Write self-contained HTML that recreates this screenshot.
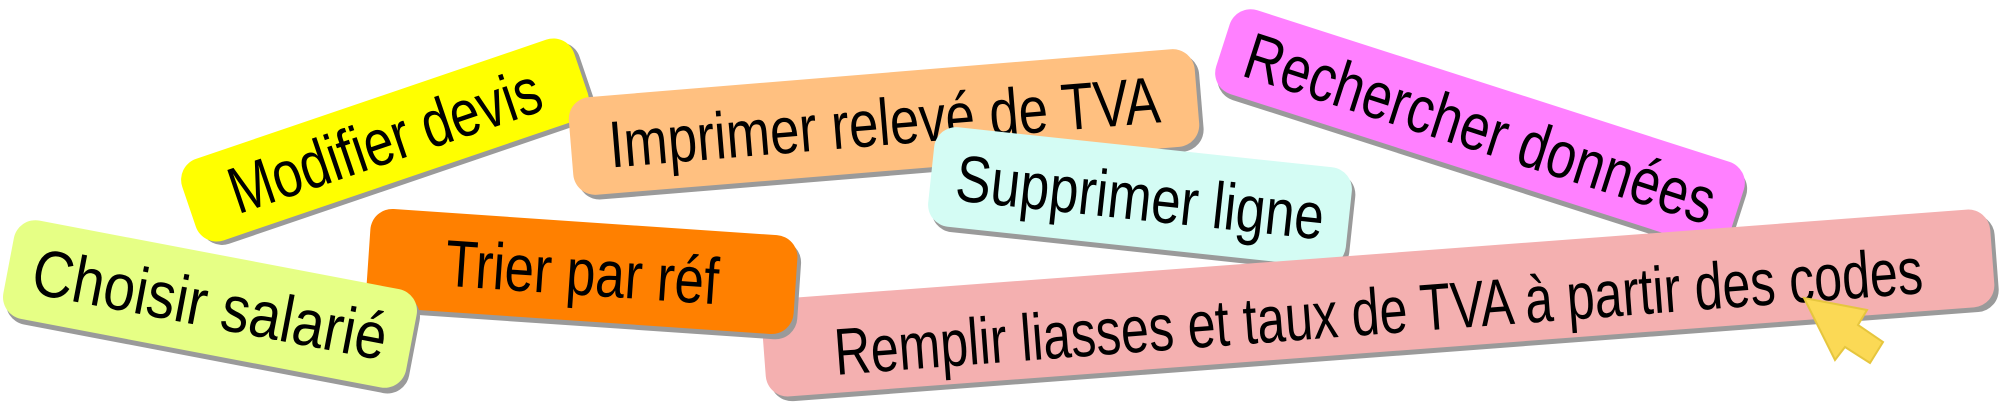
<!DOCTYPE html>
<html><head><meta charset="utf-8"><style>
html,body{margin:0;padding:0;background:#fff;}
body{width:2000px;height:404px;position:relative;overflow:hidden;font-family:"Liberation Sans",Arial,sans-serif;}
.b{position:absolute;border-radius:22px;box-shadow:4px 5px 0 #9a9a9a;display:flex;align-items:center;justify-content:center;font-size:66px;color:#000;white-space:nowrap;transform-origin:50% 50%;}
.b span{display:inline-block;transform:scaleX(0.8);}
</style></head><body>
<div class="b" style="left:178px;top:97px;width:414px;height:86px;background:#ffff00;transform:rotate(-18.8deg);"><span>Modifier devis</span></div>
<div class="b" style="left:570px;top:73px;width:628px;height:98px;background:#ffc080;transform:rotate(-4.7deg);"><span>Imprimer relevé de TVA</span></div>
<div class="b" style="left:1210px;top:84px;width:540px;height:88px;background:#ff80ff;transform:rotate(17.8deg);"><span>Rechercher données</span></div>
<div class="b" style="left:930px;top:147px;width:420px;height:100px;background:#d4fcf4;transform:rotate(6.1deg);"><span>Supprimer ligne</span></div>
<div class="b" style="left:762px;top:254px;width:1232px;height:98px;background:#f4b0b0;transform:rotate(-4.3deg);"><span style="transform:translateY(8px) scaleX(0.76)">Remplir liasses et taux de TVA à partir des codes</span></div>
<div class="b" style="left:368px;top:222px;width:428px;height:99px;background:#ff8000;transform:rotate(3.9deg);"><span>Trier par réf</span></div>
<div class="b" style="left:5px;top:254px;width:410px;height:100px;background:#e6ff85;transform:rotate(10.8deg);"><span style="transform:scaleX(0.86)">Choisir salarié</span></div>
<svg style="position:absolute;left:0;top:0" width="2000" height="404">
<polygon points="1804,298 1867,310 1858,325 1883,342 1870,363 1845,347 1835,360" fill="#fbd955" stroke="#e6c63e" stroke-width="2"/>
</svg>
</body></html>
